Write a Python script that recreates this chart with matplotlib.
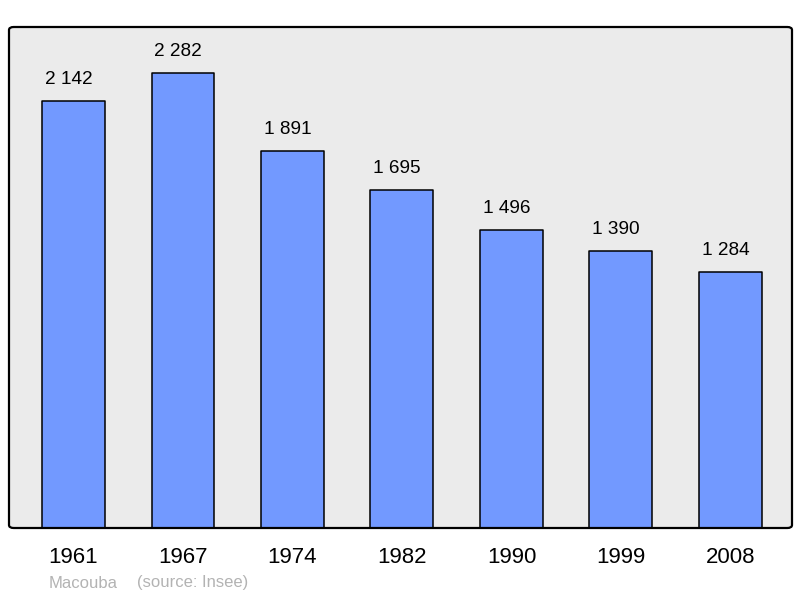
import matplotlib
matplotlib.use("Agg")
import matplotlib.pyplot as plt
from matplotlib.patches import FancyBboxPatch

years = ["1961", "1967", "1974", "1982", "1990", "1999", "2008"]
population = [2142, 2282, 1891, 1695, 1496, 1390, 1284]
value_labels = ["2 142", "2 282", "1 891", "1 695", "1 496", "1 390", "1 284"]
commune = "Macouba"
source = "(source: Insee)"

plt.rcParams['font.family'] = ['Liberation Sans', 'DejaVu Sans']

fig = plt.figure(figsize=(8, 5.98), dpi=100)
W, H = 800, 598
ax = fig.add_axes([9 / W, (H - 528) / H, 783 / W, 501 / H])
ax.set_facecolor('none')

x = list(range(len(years)))
bars = ax.bar(x, population, width=0.575, color='#7299ff', edgecolor='black',
              linewidth=1.1, zorder=2)
for b in bars:
    b.set_joinstyle('round')

ax.set_xlim(-0.589, 6.562)
ax.set_ylim(0, 2513)

for xi, v, lab in zip(x, population, value_labels):
    ax.annotate(lab, (xi, v), xytext=(-3.6, 12), textcoords='offset points',
                ha='center', va='baseline', fontsize=13.7, color='black')

ax.set_xticks(x)
ax.set_xticklabels(years, fontsize=16)
ax.tick_params(axis='x', length=0, pad=14)
ax.set_yticks([])
for s in ax.spines.values():
    s.set_visible(False)

bg = FancyBboxPatch((0, 0), 1, 1, boxstyle="round,pad=0,rounding_size=0.006",
                    transform=ax.transAxes, facecolor='#ebebeb', edgecolor='none',
                    zorder=0, clip_on=False)
ax.add_patch(bg)
frame = FancyBboxPatch((0, 0), 1, 1, boxstyle="round,pad=0,rounding_size=0.006",
                       transform=ax.transAxes, facecolor='none', edgecolor='black',
                       linewidth=1.6, zorder=5, clip_on=False)
ax.add_patch(frame)

fig.text(49 / W, 1 - 583 / H, commune, fontsize=12, color='#b3b3b3', va='center', ha='left')
fig.text(137 / W, 1 - 583 / H, source, fontsize=12, color='#b3b3b3', va='center', ha='left')

fig.savefig('out.png', dpi=100)
